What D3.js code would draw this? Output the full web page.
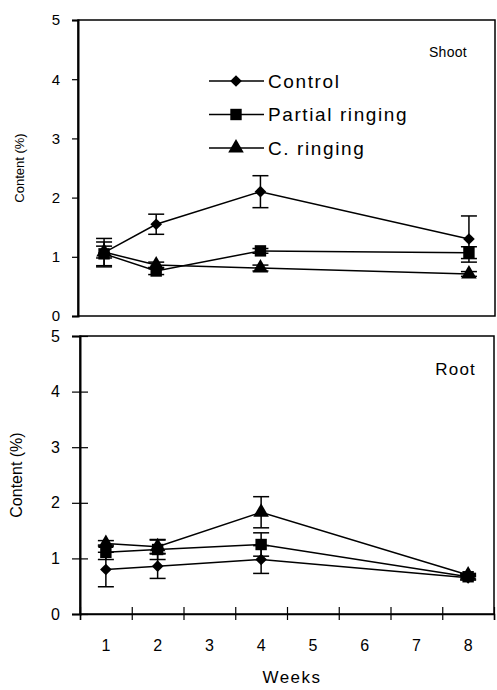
<!DOCTYPE html>
<html>
<head>
<meta charset="utf-8">
<script src="https://cdn.jsdelivr.net/npm/d3@7/dist/d3.min.js"></script>
<style>
  html, body { margin: 0; padding: 0; background: #fff; }
  svg { display: block; font-family: "Liberation Sans", Arial, sans-serif; }
</style>
</head>
<body>
<svg id="chart" width="497" height="690"></svg>
<script>
// Week slots on the category axis and the weeks that were sampled
const weekSlots = ["1", "2", "3", "4", "5", "6", "7", "8"];
const weeks = ["1", "2", "4", "8"];
const yTicks = [0, 1, 2, 3, 4, 5];
const seriesNames = ["Control", "Partial ringing", "C. ringing"];

// Shoot content (%) and standard errors
const shootControl = [1.07, 1.55, 2.10, 1.30];
const shootControlErr = [0.24, 0.17, 0.27, 0.39];
const shootPartial = [1.05, 0.76, 1.10, 1.07];
const shootPartialErr = [0.20, 0.06, 0.04, 0.10];
const shootComplete = [1.08, 0.86, 0.81, 0.71];
const shootCompleteErr = [0.10, 0.05, 0.05, 0.04];

// Root content (%) and standard errors
const rootControl = [0.80, 0.86, 0.98, 0.65];
const rootControlErr = [0.31, 0.22, 0.25, 0.04];
const rootPartial = [1.11, 1.16, 1.25, 0.67];
const rootPartialErr = [0.13, 0.18, 0.21, 0.04];
const rootComplete = [1.27, 1.21, 1.83, 0.70];
const rootCompleteErr = [0.05, 0.12, 0.28, 0.03];

const svg = d3.select("#chart");
// diamond = square turned by 45 degrees
const symbols = [d3.symbolSquare, d3.symbolSquare, d3.symbolTriangle];
const symbolSizes = [68, 130, 105];
const symbolTurn = [45, 0, 0];

function build(values, errs) {
  return weeks.map((w, i) => ({ week: w, v: values[i], e: errs[i] }));
}

function drawPanel(opt) {
  const g = svg.append("g");
  const x = d3.scaleBand().domain(weekSlots).range([opt.left, opt.right]);
  const y = d3.scaleLinear().domain([0, 5]).range([opt.bottom, opt.top]);
  const cx = d => x(d.week) + x.bandwidth() / 2;

  // frame
  g.append("rect")
    .attr("x", opt.left).attr("y", opt.top)
    .attr("width", opt.right - opt.left).attr("height", opt.bottom - opt.top)
    .attr("fill", "none").attr("stroke", "#000").attr("stroke-width", 1.5);

  // y axis
  const ya = g.append("g")
    .attr("transform", `translate(${opt.left},0)`)
    .call(d3.axisLeft(y).tickValues(yTicks).tickFormat(d3.format("d"))
      .tickSize(opt.yTickOut).tickPadding(opt.yPad));
  ya.select(".domain").attr("stroke-width", 2);
  ya.selectAll(".tick line").attr("stroke-width", 1.2).attr("x1", opt.yTickIn);
  ya.selectAll(".tick text").attr("font-size", opt.tickFont)
    .attr("font-family", "Liberation Sans, Arial, sans-serif").attr("fill", "#000");

  if (opt.xAxis) {
    // boundary ticks between week slots
    const edge = d3.scaleLinear().domain([0, weekSlots.length]).range([opt.left, opt.right]);
    const xb = g.append("g")
      .attr("transform", `translate(0,${opt.bottom})`)
      .call(d3.axisBottom(edge).tickValues(d3.range(0, weekSlots.length + 1))
        .tickFormat("").tickSize(6));
    xb.select(".domain").attr("stroke-width", 1.5);
    xb.selectAll(".tick line").attr("y1", -7).attr("stroke-width", 1.2);

    const xl = g.append("g")
      .attr("transform", `translate(0,${opt.bottom})`)
      .call(d3.axisBottom(x).tickSize(0).tickPadding(26));
    xl.select(".domain").remove();
    xl.selectAll(".tick text").attr("font-size", opt.tickFont)
      .attr("font-family", "Liberation Sans, Arial, sans-serif").attr("fill", "#000");

    g.append("text")
      .attr("x", opt.xTitleX).attr("y", opt.xTitleY)
      .attr("text-anchor", "middle").attr("font-size", 17)
      .attr("letter-spacing", 1.5)
      .text("Weeks");
  }

  // y title
  g.append("text")
    .attr("transform", `translate(${opt.yTitleX},${(opt.top + opt.bottom) / 2}) rotate(-90)`)
    .attr("text-anchor", "middle").attr("font-size", opt.yTitleFont)
    .text("Content (%)");

  // panel tag
  g.append("text")
    .attr("x", opt.tagX).attr("y", opt.tagY)
    .attr("text-anchor", "end").attr("font-size", opt.tagFont)
    .attr("letter-spacing", opt.tagSpacing)
    .text(opt.tag);

  const line = d3.line().x(cx).y(d => y(d.v));

  opt.series.forEach((data, si) => {
    const s = g.append("g");
    s.append("path").datum(data).attr("d", line)
      .attr("fill", "none").attr("stroke", "#000").attr("stroke-width", 1.5);
    // error bars
    const eb = s.selectAll(".eb").data(data).join("g");
    eb.append("line")
      .attr("x1", cx).attr("x2", cx)
      .attr("y1", d => y(d.v + d.e)).attr("y2", d => y(d.v - d.e))
      .attr("stroke", "#000").attr("stroke-width", 1.5);
    [1, -1].forEach(sign => {
      eb.append("line")
        .attr("x1", d => cx(d) - 8).attr("x2", d => cx(d) + 8)
        .attr("y1", d => y(d.v + sign * d.e)).attr("y2", d => y(d.v + sign * d.e))
        .attr("stroke", "#000").attr("stroke-width", 1.5);
    });
    s.selectAll(".mk").data(data).join("path")
      .attr("transform", d => `translate(${cx(d)},${y(d.v)}) rotate(${symbolTurn[si]})`)
      .attr("d", d3.symbol().type(symbols[si]).size(symbolSizes[si]))
      .attr("fill", "#000");
  });

  return { x, y };
}

drawPanel({
  left: 78, right: 495, top: 20, bottom: 316,
  yTickOut: 6, yTickIn: 0, yPad: 12, tickFont: 15,
  yTitleX: 24, yTitleFont: 13,
  tag: "Shoot", tagX: 467, tagY: 57, tagFont: 14, tagSpacing: 0.3,
  xAxis: false,
  series: [
    build(shootControl, shootControlErr),
    build(shootPartial, shootPartialErr),
    build(shootComplete, shootCompleteErr)
  ]
});

drawPanel({
  left: 80, right: 494, top: 336, bottom: 614,
  yTickOut: 8, yTickIn: 8, yPad: 12, tickFont: 16,
  yTitleX: 22, yTitleFont: 16,
  tag: "Root", tagX: 476, tagY: 375, tagFont: 17, tagSpacing: 1.2,
  xAxis: true, xTitleX: 292, xTitleY: 683,
  series: [
    build(rootControl, rootControlErr),
    build(rootPartial, rootPartialErr),
    build(rootComplete, rootCompleteErr)
  ]
});

// legend in the shoot panel
const legend = svg.append("g");
const legendRowY = d3.scalePoint().domain(seriesNames).range([81, 148]);
seriesNames.forEach((name, i) => {
  const ly = legendRowY(name);
  legend.append("line").attr("x1", 209).attr("x2", 264).attr("y1", ly).attr("y2", ly)
    .attr("stroke", "#000").attr("stroke-width", 1.5);
  legend.append("path")
    .attr("transform", `translate(236,${ly}) rotate(${symbolTurn[i]})`)
    .attr("d", d3.symbol().type(symbols[i]).size(symbolSizes[i]))
    .attr("fill", "#000");
  legend.append("text").attr("x", 268).attr("y", ly).attr("dy", "0.35em")
    .attr("font-size", 19).attr("letter-spacing", 1.6)
    .text(name);
});
</script>
</body>
</html>
